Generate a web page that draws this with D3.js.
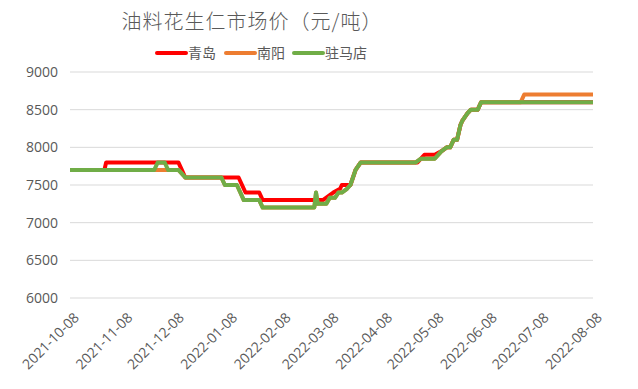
<!DOCTYPE html>
<html><head><meta charset="utf-8">
<script src="https://cdn.jsdelivr.net/npm/d3@7"></script>
<style>body{margin:0;background:#fff}svg{display:block}</style>
</head><body>
<svg id="c" width="638" height="389"></svg>
<script>
const title = "油料花生仁市场价（元/吨）";
const seriesNames = ["青岛", "南阳", "驻马店"];
const seriesColors = ["#ff0000", "#ed7d31", "#70ad47"];
const yTicks = [6000, 6500, 7000, 7500, 8000, 8500, 9000];
const xTickLabels = ["2021-10-08","2021-11-08","2021-12-08","2022-01-08","2022-02-08","2022-03-08","2022-04-08","2022-05-08","2022-06-08","2022-07-08","2022-08-08"];

const qingdao = [
 ["2021-10-08",7700],["2021-10-28",7700],["2021-10-29",7800],["2021-12-10",7800],["2021-12-12",7700],["2021-12-14",7600],
 ["2022-01-14",7600],["2022-01-16",7500],["2022-01-18",7400],["2022-01-26",7400],["2022-01-28",7300],["2022-03-04",7300],
 ["2022-03-07",7350],["2022-03-10",7400],["2022-03-14",7450],["2022-03-15",7500],["2022-03-20",7500],["2022-03-23",7700],
 ["2022-03-26",7800],["2022-04-28",7800],["2022-05-02",7900],["2022-05-08",7900],["2022-05-12",7950],["2022-05-15",8000],
 ["2022-05-17",8000],["2022-05-19",8100],["2022-05-21",8100],["2022-05-23",8300],["2022-05-24",8350],["2022-05-27",8450],
 ["2022-05-29",8500],["2022-06-02",8500],["2022-06-04",8600],["2022-08-08",8600]
];
const nanyang = [
 ["2021-10-08",7700],["2021-12-10",7700],["2021-12-14",7600],["2022-01-04",7600],["2022-01-06",7500],["2022-01-13",7500],
 ["2022-01-15",7400],["2022-01-17",7300],["2022-01-26",7300],["2022-01-28",7200],["2022-02-27",7200],["2022-02-28",7400],
 ["2022-03-01",7250],["2022-03-06",7250],["2022-03-08",7330],["2022-03-11",7330],["2022-03-13",7400],["2022-03-15",7400],
 ["2022-03-18",7450],["2022-03-20",7500],["2022-03-23",7700],["2022-03-26",7800],["2022-04-27",7800],["2022-04-30",7850],
 ["2022-05-08",7850],["2022-05-12",7950],["2022-05-15",8000],["2022-05-17",8000],["2022-05-19",8100],["2022-05-21",8100],
 ["2022-05-23",8300],["2022-05-24",8350],["2022-05-27",8450],["2022-05-29",8500],["2022-06-02",8500],["2022-06-04",8600],
 ["2022-06-27",8600],["2022-06-29",8700],["2022-08-08",8700]
];
const zhumadian = [
 ["2021-10-08",7700],["2021-11-26",7700],["2021-11-28",7800],["2021-12-02",7800],["2021-12-04",7700],["2021-12-10",7700],
 ["2021-12-14",7600],["2022-01-04",7600],["2022-01-06",7500],["2022-01-13",7500],["2022-01-15",7400],["2022-01-17",7300],
 ["2022-01-26",7300],["2022-01-28",7200],["2022-02-27",7200],["2022-02-28",7400],["2022-03-01",7250],["2022-03-06",7250],
 ["2022-03-08",7330],["2022-03-11",7330],["2022-03-13",7400],["2022-03-15",7400],["2022-03-18",7450],["2022-03-20",7500],
 ["2022-03-23",7700],["2022-03-26",7800],["2022-04-27",7800],["2022-04-30",7850],["2022-05-08",7850],["2022-05-12",7950],
 ["2022-05-15",8000],["2022-05-17",8000],["2022-05-19",8100],["2022-05-21",8100],["2022-05-23",8300],["2022-05-24",8350],
 ["2022-05-27",8450],["2022-05-29",8500],["2022-06-02",8500],["2022-06-04",8600],["2022-08-08",8600]
];
const allSeries = [qingdao, nanyang, zhumadian];

const parse = d3.timeParse("%Y-%m-%d");
const svg = d3.select("#c");
const font = "'Open Sans','Noto Sans CJK SC',sans-serif";
const mLeft = 70, mRight = 593, mTop = 72, mBottom = 298;

const x = d3.scaleTime().domain([parse(xTickLabels[0]), parse(xTickLabels[xTickLabels.length-1])]).range([mLeft, mRight]);
const y = d3.scaleLinear().domain([6000, 9000]).range([mBottom, mTop]);

// grid
svg.append("g").selectAll("line").data(yTicks).join("line")
  .attr("x1", mLeft).attr("x2", mRight)
  .attr("y1", d => y(d)).attr("y2", d => y(d))
  .attr("stroke", "#d9d9d9").attr("stroke-width", 1);

// y axis labels
const yAxis = d3.axisLeft(y).tickValues(yTicks).tickSize(0).tickPadding(12).tickFormat(d3.format("d"));
const gy = svg.append("g").attr("transform", `translate(${mLeft},0)`).call(yAxis);
gy.select(".domain").remove();
gy.selectAll("text").attr("fill", "#595959").style("font-size", "14px").style("font-family", font);

// x axis labels
const xAxis = d3.axisBottom(x).tickValues(xTickLabels.map(parse)).tickSize(0).tickFormat(d3.timeFormat("%Y-%m-%d"));
const gx = svg.append("g").attr("transform", `translate(0,${mBottom})`).call(xAxis);
gx.select(".domain").remove();
gx.selectAll("text").attr("fill", "#595959").style("font-size", "14px").style("font-family", font)
  .attr("text-anchor", "end").attr("dy", "0.35em").attr("y", 0)
  .attr("transform", "translate(6,17) rotate(-45)");

// lines
const line = d3.line().x(d => x(parse(d[0]))).y(d => y(d[1]));
svg.append("g").selectAll("path").data(allSeries).join("path")
  .attr("d", line).attr("fill", "none")
  .attr("stroke", (d, i) => seriesColors[i]).attr("stroke-width", 4)
  .attr("stroke-linejoin", "round");

// title
svg.append("text").attr("x", 252).attr("y", 29).attr("text-anchor", "middle")
  .attr("fill", "#595959").style("font-size", "20px").style("font-family", "'Noto Sans CJK SC',sans-serif")
  .style("font-weight", 300).style("letter-spacing", "1px").text(title);

// legend
const legX = [157, 226, 294];
const lg = svg.append("g").selectAll("g").data(seriesNames).join("g")
  .attr("transform", (d, i) => `translate(${legX[i]},53)`);
lg.append("line").attr("x1", 0).attr("x2", 29).attr("y1", 0).attr("y2", 0)
  .attr("stroke", (d, i) => seriesColors[i]).attr("stroke-width", 4).attr("stroke-linecap", "round");
lg.append("text").attr("x", 31).attr("y", 5).attr("fill", "#595959")
  .style("font-size", "14px").style("font-family", "'Noto Sans CJK SC',sans-serif").text(d => d);
</script>
</body></html>
